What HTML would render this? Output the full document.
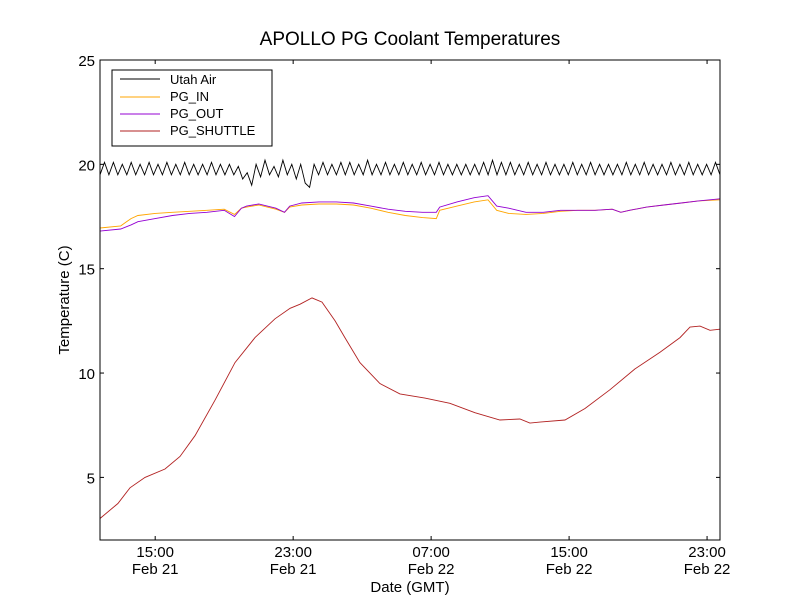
<!DOCTYPE html>
<html><head><meta charset="utf-8"><style>
body{margin:0;background:#fff;}
svg text{font-family:"Liberation Sans",sans-serif;}
</style></head><body>
<svg id="chart" width="800" height="600" xmlns="http://www.w3.org/2000/svg">
<rect width="800" height="600" fill="#fff"/>
<text x="410" y="45" font-size="19" text-anchor="middle">APOLLO PG Coolant Temperatures</text>
<g id="plot"></g>
<rect x="100" y="60" width="620" height="480" fill="none" stroke="#000" stroke-width="1"/>
<text x="410" y="592" font-size="15" text-anchor="middle">Date (GMT)</text>
<text transform="translate(69,300) rotate(-90)" font-size="15" text-anchor="middle">Temperature (C)</text>
<g>
<rect x="112" y="70" width="160" height="76" fill="#fff" stroke="#000"/>
<line x1="120" y1="79" x2="160" y2="79" stroke="#000"/><text x="170" y="84" font-size="13">Utah Air</text>
<line x1="120" y1="97" x2="160" y2="97" stroke="#ffa500"/><text x="170" y="101" font-size="13">PG_IN</text>
<line x1="120" y1="114" x2="160" y2="114" stroke="#9400d3"/><text x="170" y="118" font-size="13">PG_OUT</text>
<line x1="120" y1="131" x2="160" y2="131" stroke="#b22222"/><text x="170" y="135" font-size="13">PG_SHUTTLE</text>
</g>
</svg>
<script>
const yTicks=[5,10,15,20,25];
const xTickHours=[15,23,31,39,47];
const xTickTimes=["15:00","23:00","07:00","15:00","23:00"];
const xTickDates=["Feb 21","Feb 21","Feb 22","Feb 22","Feb 22"];
const shuttleHours=[11.8,12.84,13.54,14.41,15.57,16.44,17.31,18.47,19.63,20.79,21.95,22.82,23.4,24.09,24.67,25.43,26.0,26.87,28.03,29.19,30.64,32.09,33.54,34.99,36.15,36.73,37.31,38.76,39.92,41.37,42.82,44.27,45.43,46.01,46.59,47.17,47.75];
const shuttleTemps=[3.03,3.75,4.5,5.0,5.4,6.0,7.0,8.7,10.5,11.7,12.6,13.1,13.3,13.6,13.4,12.5,11.7,10.5,9.5,9.0,8.8,8.55,8.1,7.75,7.8,7.6,7.65,7.75,8.3,9.2,10.2,11.0,11.7,12.2,12.25,12.05,12.1];
const pgHours=[11.8,13.0,13.6,14.0,15.0,16.0,17.0,18.0,19.0,19.6,20.0,20.3,21.0,22.0,22.5,22.8,23.5,24.5,25.5,26.5,27.5,28.5,29.5,30.5,31.3,31.5,32.5,33.5,34.3,34.8,35.5,36.5,37.5,38.5,39.5,40.5,41.5,42.0,42.5,43.5,44.5,45.5,46.5,47.75];
const pgOutTemps=[16.8,16.9,17.1,17.25,17.4,17.55,17.65,17.7,17.8,17.5,17.9,18.0,18.1,17.9,17.7,18.0,18.15,18.2,18.2,18.15,18.0,17.85,17.75,17.7,17.7,17.95,18.2,18.4,18.5,18.0,17.9,17.7,17.7,17.8,17.8,17.8,17.85,17.7,17.8,17.95,18.05,18.15,18.25,18.35];
const pgInTemps=[16.95,17.05,17.4,17.55,17.65,17.7,17.75,17.8,17.85,17.6,17.9,17.95,18.05,17.85,17.7,17.95,18.05,18.1,18.1,18.05,17.9,17.7,17.55,17.45,17.4,17.8,18.0,18.2,18.3,17.8,17.65,17.6,17.65,17.75,17.8,17.8,17.85,17.7,17.8,17.95,18.05,18.15,18.25,18.3];
const airTemps=[19.5,20.1,19.5,20.1,19.5,20.0,19.5,20.1,19.5,20.0,19.5,20.1,19.5,20.0,19.5,20.1,19.5,20.0,19.5,20.1,19.5,20.0,19.5,20.0,19.5,20.1,19.5,20.0,19.5,20.0,19.5,19.9,19.3,19.6,19.0,20.0,19.4,20.2,19.5,19.9,19.4,20.2,19.5,20.0,19.3,20.0,19.1,18.9,20.0,19.5,20.1,19.5,20.0,19.5,20.1,19.5,20.1,19.5,20.0,19.5,20.2,19.5,20.0,19.5,20.1,19.5,20.0,19.5,20.1,19.5,20.0,19.5,20.1,19.5,20.0,19.5,20.1,19.5,20.0,19.5,20.0,19.5,20.0,19.5,20.0,19.5,20.1,19.5,20.2,19.5,20.1,19.5,20.1,19.5,20.0,19.5,20.1,19.5,20.0,19.5,20.1,19.5,20.0,19.5,20.0,19.5,20.1,19.5,20.0,19.5,20.1,19.5,20.0,19.5,20.0,19.5,20.0,19.5,20.1,19.5,20.0,19.5,20.1,19.5,20.0,19.5,20.0,19.5,20.1,19.5,20.0,19.5,20.1,19.5,20.0,19.5,20.0,19.5,20.1,19.5];
const X0=100,X1=720,Y0=540,Y1=60,HMIN=11.8,HMAX=47.75,TMIN=2,TMAX=25;
const sx=h=>X0+(h-HMIN)/(HMAX-HMIN)*(X1-X0);
const sy=t=>Y0-(t-TMIN)/(TMAX-TMIN)*(Y0-Y1);
const NS="http://www.w3.org/2000/svg";
const plot=document.getElementById('plot');
function mk(tag,attrs){const e=document.createElementNS(NS,tag);for(const k in attrs)e.setAttribute(k,attrs[k]);plot.appendChild(e);return e;}
function line(hs,ts,color,name){
  const d=hs.map((h,i)=>(i?'L':'M')+sx(h).toFixed(1)+' '+sy(ts[i]).toFixed(1)).join(' ');
  const p=mk('path',{d:d,fill:'none',stroke:color,'stroke-width':0.9});
  
  
}
const airHours=airTemps.map((_,i)=>HMIN+i*(HMAX-HMIN)/(airTemps.length-1));
line(airHours,airTemps,'#000','utah-air-line');
line(pgHours,pgInTemps,'#ffa500','pg-in-line');
line(pgHours,pgOutTemps,'#9400d3','pg-out-line');
line(shuttleHours,shuttleTemps,'#b22222','pg-shuttle-line');
yTicks.forEach(t=>{
  const y=sy(t);
  const a=mk('line',{x1:100,x2:104,y1:y,y2:y,stroke:'#000'});
  
  
  mk('line',{x1:716,x2:720,y1:y,y2:y,stroke:'#000'});
  const tx=mk('text',{x:95,y:y+6,'font-size':15,'text-anchor':'end'});
  tx.textContent=t;
  
  
});
xTickHours.forEach((h,i)=>{
  const x=sx(h);
  const a=mk('line',{x1:x,x2:x,y1:540,y2:536,stroke:'#000'});
  
  
  mk('line',{x1:x,x2:x,y1:60,y2:64,stroke:'#000'});
  const t1=mk('text',{x:x,y:557,'font-size':15,'text-anchor':'middle'});
  t1.textContent=xTickTimes[i];
  
  
  const t2=mk('text',{x:x,y:574,'font-size':15,'text-anchor':'middle'});
  t2.textContent=xTickDates[i];
  
  
});
</script>
</body></html>
